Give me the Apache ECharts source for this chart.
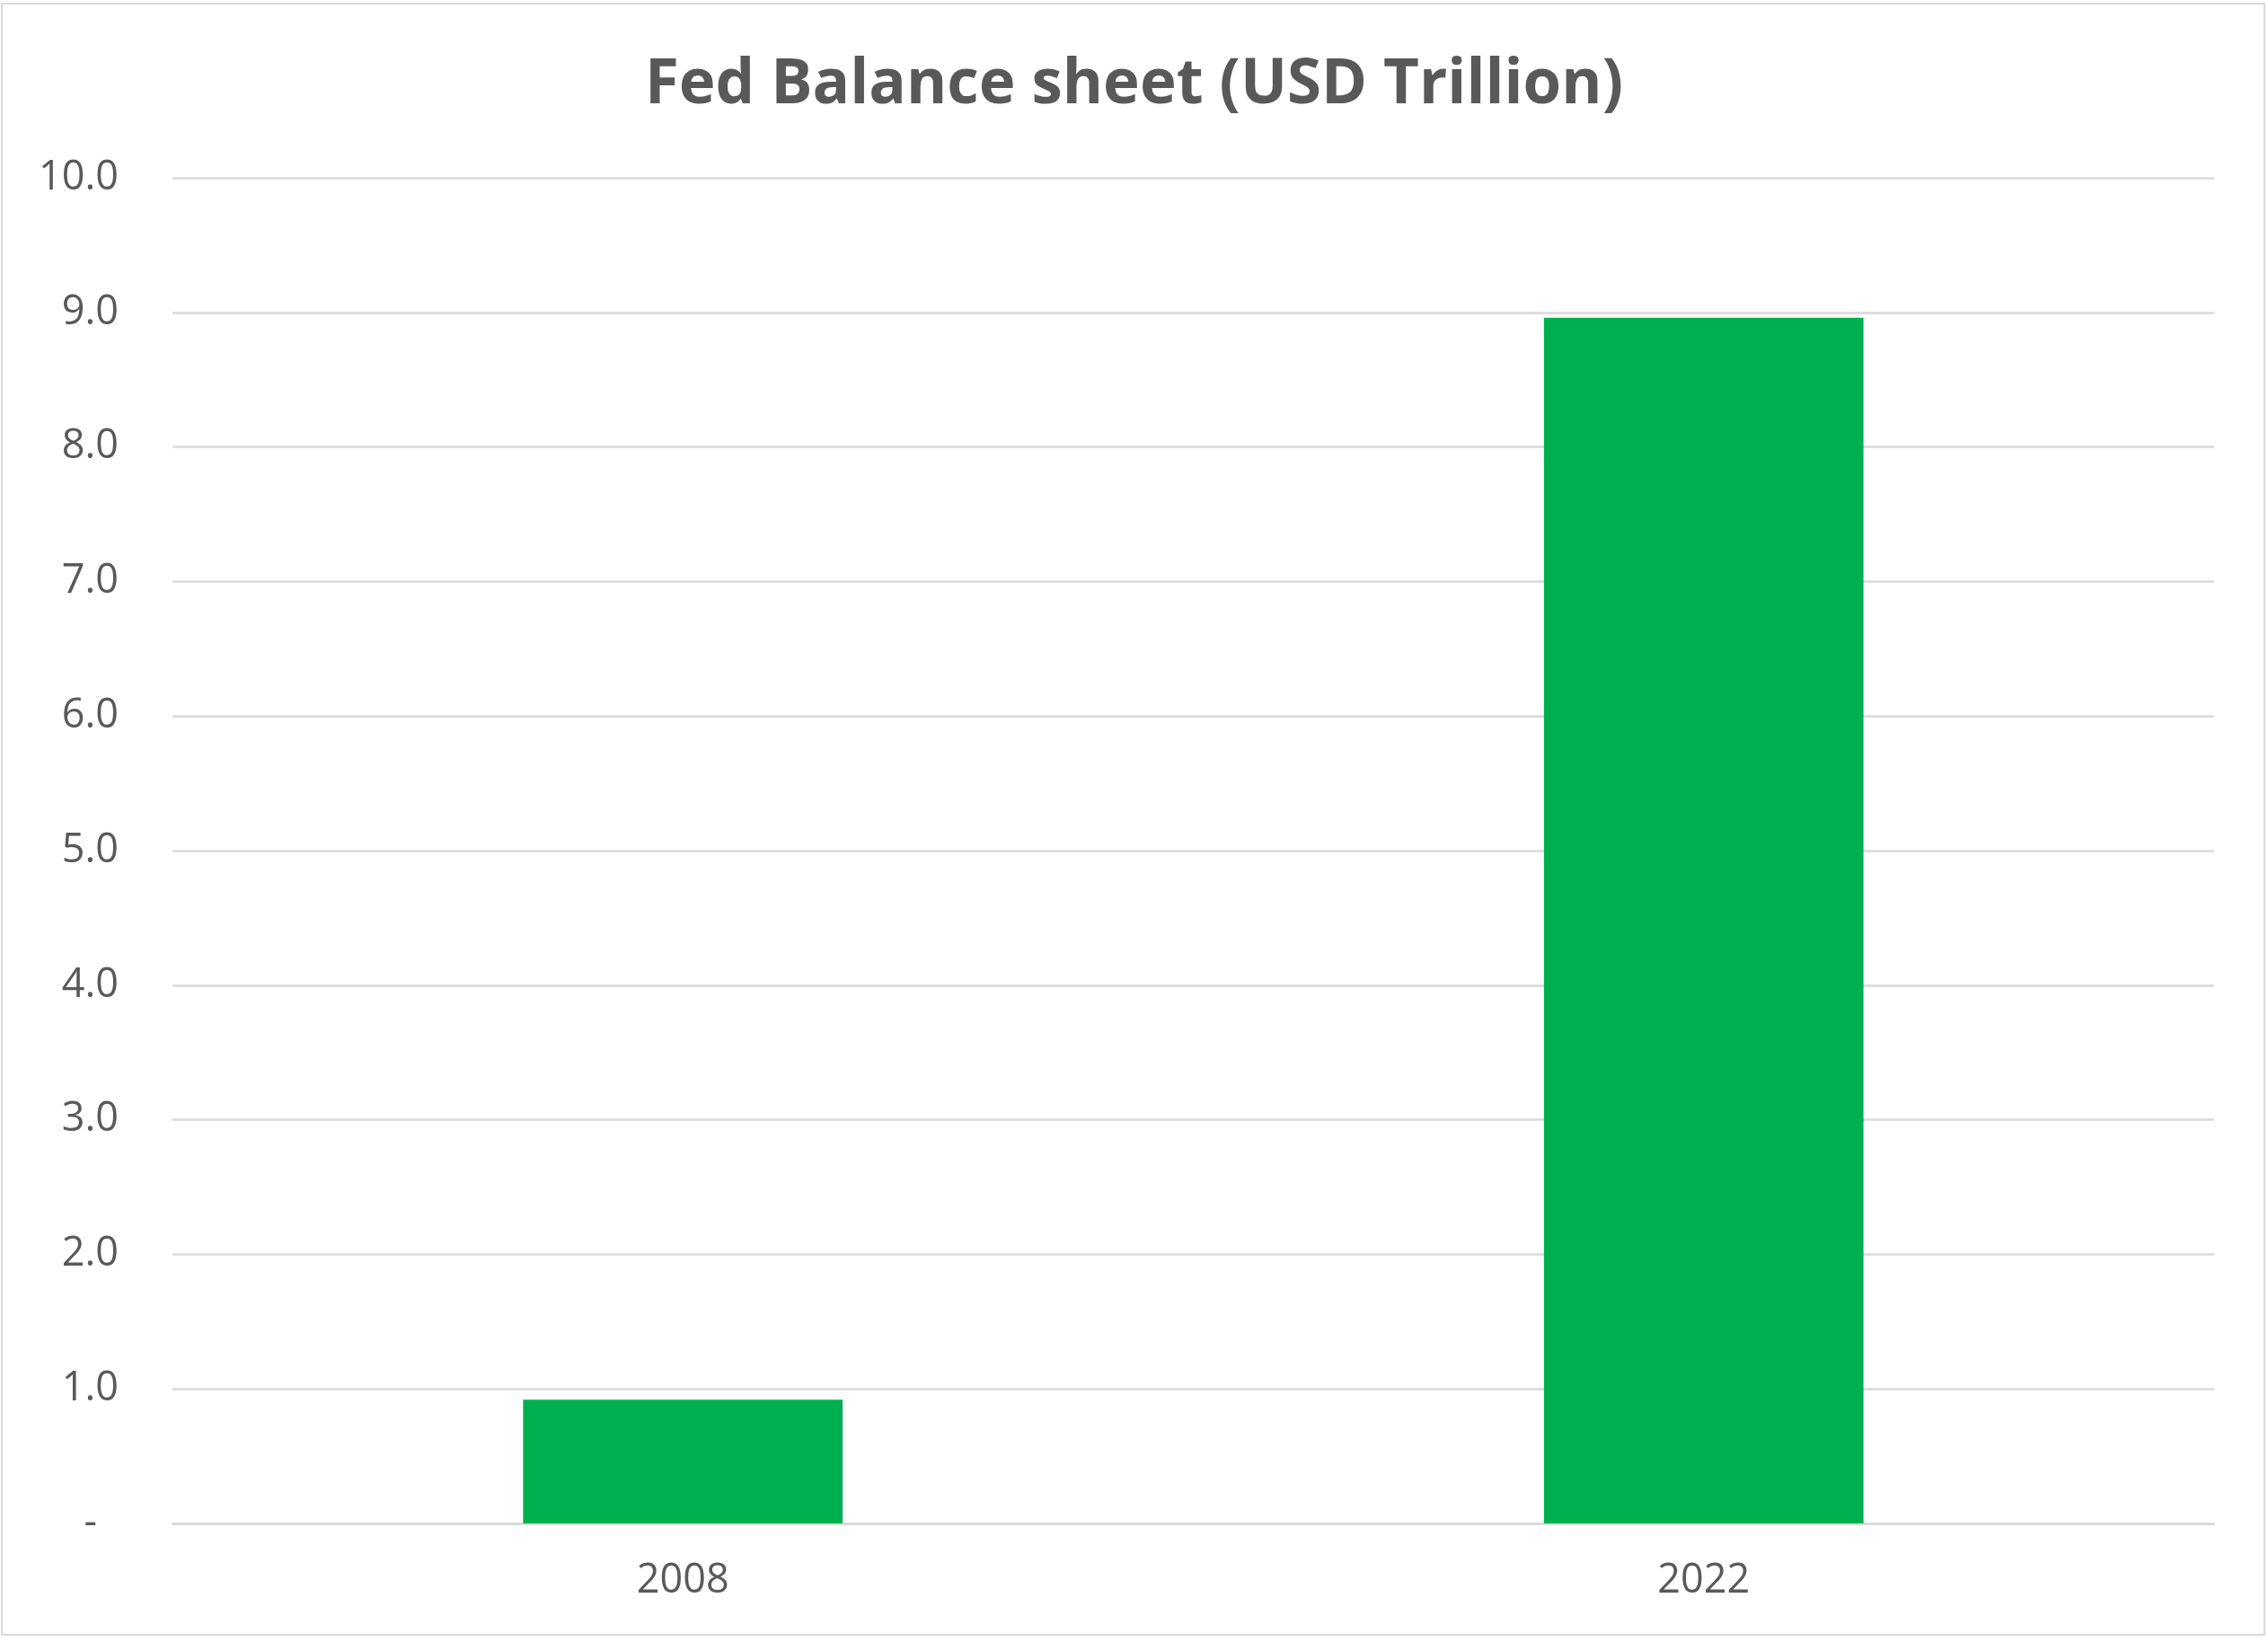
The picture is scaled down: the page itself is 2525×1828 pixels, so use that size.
<!DOCTYPE html>
<html>
<head>
<meta charset="utf-8">
<script src="https://cdn.jsdelivr.net/npm/echarts@6/dist/echarts.min.js"></script>
<style>
  html, body { margin: 0; padding: 0; background: #fff; }
  #main { width: 2525px; height: 1828px; }
</style>
</head>
<body>
<div id="main"></div>
<script>
var chartDom = document.getElementById('main');
var myChart = echarts.init(chartDom);
var option;

// data
var years = ['2008', '2022'];
var balance = [0.92, 8.96];
var chartTitle = 'Fed Balance sheet (USD Trillion)';

option = {
    backgroundColor: '#ffffff',
    animation: false,
    title: {
        text: chartTitle,
        left: 'center',
        top: 56,
        textStyle: {
            fontFamily: 'Open Sans',
            fontWeight: 'bold',
            fontSize: 69,
            color: '#595959'
        }
    },
    graphic: [{
        type: 'rect',
        shape: { x: 2, y: 4, width: 2519, height: 1816 },
        style: { fill: 'none', stroke: '#d9d9d9', lineWidth: 2 },
        silent: true
    }],
    grid: {
        left: 192,
        right: 60,
        top: 198,
        bottom: 132
    },
    xAxis: {
        type: 'category',
        data: years,
        axisTick: { show: false },
        axisLine: { show: true, lineStyle: { color: '#d9d9d9', width: 2.5 } },
        axisLabel: {
            margin: 42,
            fontFamily: 'Open Sans',
            fontSize: 45,
            color: '#595959'
        }
    },
    yAxis: {
        type: 'value',
        min: 0,
        max: 10,
        interval: 1,
        axisLine: { show: false },
        axisTick: { show: false },
        splitLine: { lineStyle: { color: '#d9d9d9', width: 2.5 } },
        axisLabel: {
            margin: 60,
            fontFamily: 'Open Sans',
            fontSize: 45,
            color: '#595959',
            formatter: function (v) {
                // accounting style: zero shown as a dash, set in from the right
                return v === 0 ? '{z|-}' : v.toFixed(1);
            },
            rich: {
                z: {
                    fontFamily: 'Open Sans',
                    fontSize: 45,
                    color: '#595959',
                    padding: [0, 24, 0, 0]
                }
            }
        }
    },
    series: [{
        type: 'bar',
        data: balance,
        barWidth: '31.3%',
        itemStyle: { color: '#00b050' }
    }]
};

option && myChart.setOption(option);
</script>
</body>
</html>
